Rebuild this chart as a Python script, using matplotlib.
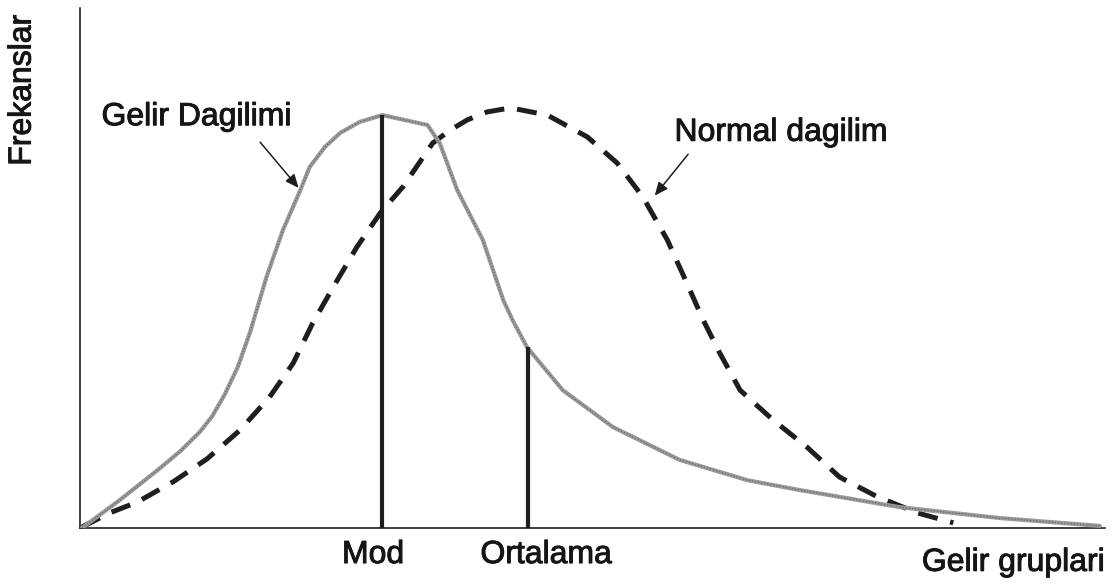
import numpy as np
import matplotlib
matplotlib.use('Agg')
import matplotlib.pyplot as plt
import matplotlib.patheffects as pe

plt.rcParams['font.family'] = ['Liberation Sans', 'DejaVu Sans']

# income distribution (skewed)
gelir_x = [0.2, 3.9, 7.8, 9.8, 11.7, 12.9, 14.1, 15.4, 16.6, 18.2, 19.8, 21.5, 22.4, 23.9,
           25.4, 27.3, 29.5, 33.9, 35.1, 36.8, 39.3, 41.3, 42.2, 43.6, 47.1, 52.0, 58.5,
           65.1, 70.2, 80.0, 89.8, 99.5]
gelir_y = [0.0, 5.4, 11.5, 14.8, 18.5, 21.5, 25.6, 31.0, 37.7, 48.3, 57.3, 65.0, 69.4, 73.3,
           76.0, 78.1, 79.4, 77.5, 74.0, 65.0, 55.4, 43.8, 40.0, 34.8, 26.5, 19.4, 13.1,
           9.2, 7.3, 4.0, 1.9, 0.4]

# normal distribution (dashed)
normal_x = [0.2, 2.9, 5.6, 9.1, 12.4, 15.6, 18.5, 20.8, 22.7, 24.7, 27.0, 29.3, 31.5,
            34.4, 36.1, 37.8, 39.7, 42.0, 45.6, 49.5, 52.4, 54.9, 57.3, 59.2, 60.8, 62.4,
            64.4, 67.6, 70.9, 74.1, 77.8, 81.7, 85.2]
normal_y = [0.2, 2.9, 5.0, 8.9, 13.3, 18.8, 25.2, 31.7, 39.4, 46.3, 54.0, 60.6, 65.6,
            74.0, 76.5, 78.5, 80.0, 80.8, 79.4, 75.2, 70.2, 63.7, 55.4, 47.1, 40.0, 33.7,
            26.5, 20.8, 15.6, 9.8, 6.0, 2.9, 1.0]

# mode and mean markers
mod_x, mod_y = 29.5, 79.4
ort_x, ort_y = 43.7, 34.8

fig = plt.figure(figsize=(11.12, 5.84), dpi=100)
ax = fig.add_axes([80/1112, 56/584, 1025/1112, 520/584])
ax.set_xlim(0, 100)
ax.set_ylim(0, 100)

# grey textured curve
ax.plot(gelir_x, gelir_y, color='#9a9a9a', lw=3.0, solid_capstyle='round',
        solid_joinstyle='round', zorder=3)
ax.plot(gelir_x, gelir_y, color='#666666', lw=0.9, ls=(0, (1, 1.5)), zorder=4)

ax.plot(normal_x, normal_y, color='#1e1e1e', lw=3.6, dashes=(4, 2.6),
        dash_joinstyle='round', zorder=2)

ax.vlines([mod_x, ort_x], 0, [mod_y, ort_y], color='#1e1e1e', lw=3, zorder=5)

for s in ['top', 'right']:
    ax.spines[s].set_visible(False)
for s in ['left', 'bottom']:
    ax.spines[s].set_linewidth(1.2)
    ax.spines[s].set_color('#1e1e1e')
ax.set_xticks([])
ax.set_yticks([])

fs = 23
txt = dict(fontsize=fs, color='#151515', clip_on=False,
           path_effects=[pe.withStroke(linewidth=0.7, foreground='#151515')])
ax.text(-5.6, 84.2, 'Frekanslar', rotation=90, ha='center', va='center', **txt)
ax.text(2.1, 79.0, 'Gelir Dagilimi', ha='left', va='center', **txt)
ax.text(58.0, 76.0, 'Normal dagilim', ha='left', va='center', **txt)
ax.text(28.6, -5.2, 'Mod', ha='center', va='center', **txt)
ax.text(45.5, -5.2, 'Ortalama', ha='center', va='center', **txt)
ax.text(100, -6.7, 'Gelir gruplari', ha='right', va='center', **txt)

arrow = dict(arrowstyle='-|>,head_length=0.8,head_width=0.35', color='#1e1e1e', lw=1.1)
ax.annotate('', xy=(21.5, 65.0), xytext=(17.4, 74.6), arrowprops=arrow)
ax.annotate('', xy=(55.9, 63.5), xytext=(59.5, 72.3), arrowprops=arrow)

fig.savefig('out.png', dpi=100)
